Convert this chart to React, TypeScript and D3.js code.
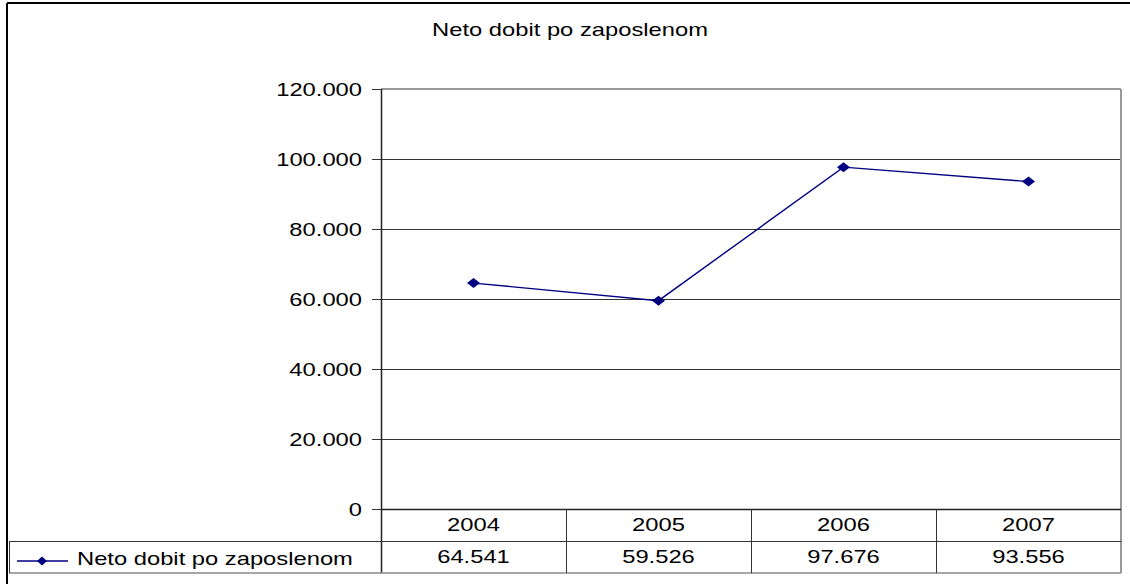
import React from 'react';
import * as d3 from 'd3';

const TITLE = 'Neto dobit po zaposlenom';
const SERIES_NAME = 'Neto dobit po zaposlenom';
const YEARS = ['2004', '2005', '2006', '2007'];
const VALUES = [64541, 59526, 97676, 93556];
const Y_TICKS = [0, 20000, 40000, 60000, 80000, 100000, 120000];

const W = 1130, H = 584;
const plot = { left: 381, right: 1121, top: 89, bottom: 509 };
const rowH = 32;
const FONT = 'Liberation Sans, Arial, sans-serif';
const FS = 19;
const SX = 1.25; // glyphs in the reference are stretched horizontally
const NAVY = '#000080';

const locale = d3.formatLocale({ decimal: ',', thousands: '.', grouping: [3], currency: ['', ''] });
const fmt = locale.format(',');

// snap 1px lines to the pixel grid
const px = (v) => Math.round(v) + 0.5;

// text drawn with a horizontal stretch
const SText = ({ x, y, anchor = 'middle', children }) => (
  <text
    transform={`translate(${x},${y}) scale(${SX},1)`}
    textAnchor={anchor}
    fontFamily={FONT}
    fontSize={FS}
    fill="#000"
  >
    {children}
  </text>
);

const diamond = (cx, cy, hw = 6.5, hh = 5) =>
  `M${cx - hw},${cy}L${cx},${cy - hh}L${cx + hw},${cy}L${cx},${cy + hh}Z`;

export default function App() {
  const x = d3.scaleBand().domain(YEARS).range([plot.left, plot.right]).padding(0);
  const y = d3.scaleLinear().domain([0, 120000]).range([plot.bottom, plot.top]);
  const cx = (d) => x(d) + x.bandwidth() / 2;

  const data = YEARS.map((yr, i) => ({ year: yr, value: VALUES[i] }));
  const line = d3.line().x(d => cx(d.year)).y(d => y(d.value));

  const row1 = plot.bottom + rowH; // bottom of year row
  const row2 = row1 + rowH;        // bottom of value row

  return (
    <svg width={W} height={H} style={{ position: 'absolute', left: 0, top: 0, background: '#fff' }}>
      {/* outer chart border (only left and top visible) */}
      <line x1={7} y1={3} x2={W} y2={3} stroke="#000" strokeWidth={2} />
      <line x1={7} y1={3} x2={7} y2={H} stroke="#000" strokeWidth={2} />

      <SText x={570} y={36}>{TITLE}</SText>

      {/* gridlines and y ticks */}
      {Y_TICKS.map(t => (
        <g key={t}>
          {t !== 120000 && (
            <line x1={plot.left} x2={plot.right} y1={px(y(t))} y2={px(y(t))} stroke="#333" strokeWidth={1} />
          )}
          <line x1={372} x2={plot.left} y1={px(y(t))} y2={px(y(t))} stroke="#333" strokeWidth={1} />
          <SText x={362} y={y(t) + 7} anchor="end">{fmt(t)}</SText>
        </g>
      ))}

      {/* plot border top and right */}
      <line x1={plot.left} x2={plot.right} y1={plot.top} y2={plot.top} stroke="#999" strokeWidth={2} />
      <line x1={plot.right} x2={plot.right} y1={plot.top} y2={row2} stroke="#999" strokeWidth={2} />

      {/* y axis, running down through the table */}
      <line x1={px(plot.left)} x2={px(plot.left)} y1={plot.top} y2={row2} stroke="#222" strokeWidth={1.5} />

      {/* data table */}
      <line x1={plot.left} x2={plot.right} y1={px(plot.bottom)} y2={px(plot.bottom)} stroke="#222" strokeWidth={1.5} />
      <line x1={9} x2={plot.right} y1={px(row1)} y2={px(row1)} stroke="#333" strokeWidth={1} />
      <line x1={9} x2={plot.right} y1={row2} y2={row2} stroke="#888" strokeWidth={1.5} />
      <line x1={px(9)} x2={px(9)} y1={row1} y2={row2} stroke="#333" strokeWidth={1} />
      {YEARS.slice(1).map(yr => (
        <line key={yr} x1={px(x(yr))} x2={px(x(yr))} y1={plot.bottom} y2={row2} stroke="#333" strokeWidth={1} />
      ))}
      {data.map(d => (
        <g key={d.year}>
          <SText x={cx(d.year)} y={plot.bottom + 22}>{d.year}</SText>
          <SText x={cx(d.year)} y={row1 + 22}>{fmt(d.value)}</SText>
        </g>
      ))}

      {/* legend key */}
      <line x1={17} x2={68} y1={row1 + 20} y2={row1 + 20} stroke={NAVY} strokeWidth={1.5} />
      <path d={diamond(42, row1 + 20, 5, 4.5)} fill={NAVY} />
      <SText x={77} y={row1 + 24} anchor="start">{SERIES_NAME}</SText>

      {/* series */}
      <path d={line(data)} fill="none" stroke={NAVY} strokeWidth={1.4} />
      {data.map(d => (
        <path key={d.year} d={diamond(cx(d.year), y(d.value))} fill={NAVY} />
      ))}
    </svg>
  );
}
